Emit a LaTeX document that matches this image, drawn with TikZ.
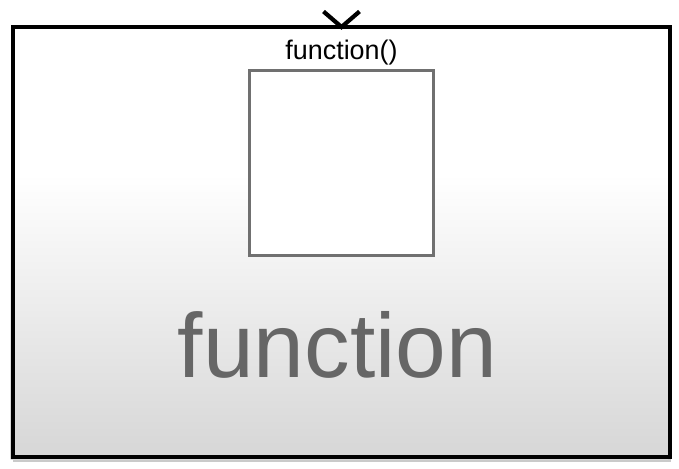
\documentclass[tikz,border=0pt]{standalone}
\usepackage{fontspec}
\setmainfont{Liberation Sans}
\definecolor{bottomgray}{RGB}{214,214,214}
\definecolor{squaregray}{RGB}{112,112,112}
\definecolor{textgray}{RGB}{102,102,102}
\definecolor{shadowgray}{RGB}{150,150,150}
\begin{document}
\begin{tikzpicture}[x=1bp,y=1bp,
  blockframe/.style={draw=black,line width=4bp},
  inner/.style={draw=squaregray,line width=3bp,fill=white},
  chev/.style={draw=black,line width=4.2bp,line join=miter}]
\useasboundingbox (0,0) rectangle (679,469);
\fill[white] (0,0) rectangle (679,469);
% shadow
\fill[shadowgray,opacity=0.5] (13,7) rectangle (671,437);
% background fill: white top, gradient bottom
\fill[white] (10.5,294) rectangle (668,439.5);
\shade[top color=white,bottom color=bottomgray] (10.5,9.5) rectangle (668,294.5);
\node[blockframe,minimum width=657.5bp,minimum height=430bp,inner sep=0pt,anchor=south west] (block) at (10.5,9.5) {};
\coordinate (cl) at (323.5,457.5);
\coordinate (ctip) at (341.5,442);
\coordinate (cr) at (359.5,457.5);
\draw[chev] (cl) -- (ctip) -- (cr);
\node[inner,minimum width=184.5bp,minimum height=184.5bp,inner sep=0pt,anchor=south west] (sq) at (247.5,212) {};
\node[anchor=base,font=\fontsize{27}{30}\selectfont,inner sep=0pt] (label) at (341.5,409) {function()};
\node[anchor=base,font=\fontsize{91.5}{100}\selectfont,text=textgray,inner sep=0pt] (name) at (337.5,91) {function};
\end{tikzpicture}
\end{document}
